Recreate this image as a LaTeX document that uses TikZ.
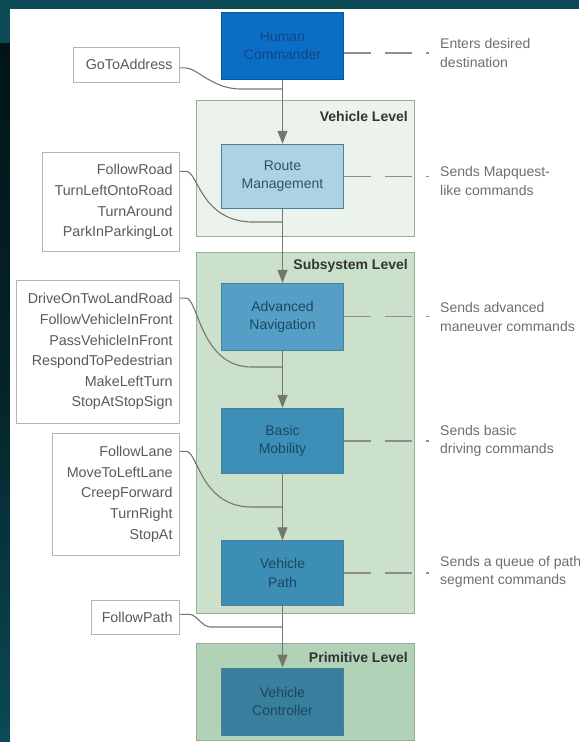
\documentclass[tikz,border=0pt]{standalone}
\usepackage{fontspec}
\setmainfont{Liberation Sans}
\usepackage{xcolor}
\usetikzlibrary{arrows.meta}

\definecolor{bgteal}{HTML}{0B4A55}
\definecolor{bgdark}{HTML}{021417}
\definecolor{hcfill}{HTML}{0B6EC6}
\definecolor{hctext}{HTML}{17457F}
\definecolor{rtfill}{HTML}{AED2E4}
\definecolor{anfill}{HTML}{559FC7}
\definecolor{bmfill}{HTML}{3D8FB7}
\definecolor{vpfill}{HTML}{3C8EB4}
\definecolor{vcfill}{HTML}{377F9D}
\definecolor{boxtext}{HTML}{1C4760}
\definecolor{boxline}{HTML}{4C7E96}
\definecolor{vlfill}{HTML}{ECF2EC}
\definecolor{slfill}{HTML}{CBE1CB}
\definecolor{plfill}{HTML}{B2D2B7}
\definecolor{tierline}{HTML}{9AAB9B}
\definecolor{listline}{HTML}{B4B4B4}
\definecolor{listtext}{HTML}{5A5A5A}
\definecolor{notetext}{HTML}{6E6E6E}
\definecolor{flowline}{HTML}{76776B}
\definecolor{dashline}{HTML}{8E8E8A}

\begin{document}
\begin{tikzpicture}[x=1pt,y=-1pt,
    every node/.style={inner sep=0pt,font=\fontsize{14}{18.5}\selectfont},
    block/.style={draw=boxline,line width=1pt,minimum width=121.8pt,minimum height=65pt,align=center,text=boxtext},
    tier/.style={draw=tierline,line width=1pt,anchor=north west,minimum width=218pt},
    tiername/.style={anchor=east,font=\bfseries\fontsize{14}{16}\selectfont,text=black!80},
    cmdlist/.style={draw=listline,fill=white,line width=1pt,anchor=east,align=right,inner xsep=7pt,text=listtext,font=\fontsize{14.3}{20.6}\selectfont},
    remark/.style={anchor=west,align=left,text=notetext},
    flowarrow/.style={draw=flowline,line width=1.3pt,-{Triangle[width=10pt,length=13pt]}},
    feedline/.style={draw=flowline,line width=1.1pt},
    dashlink/.style={draw=dashline,line width=1.4pt,dash pattern=on 27pt off 14pt}]
    %
    \useasboundingbox (0,0) rectangle (579,742);
    \fill[bgteal] (0,0) rectangle (579,742);
    \shade[top color=bgdark,bottom color=bgteal,middle color=bgdark!70!bgteal] (0,43) rectangle (10,742);
    \fill[white] (10,9) rectangle (579,742);
    %
    \node[tier,fill=vlfill,minimum height=135.5pt] (vlevel) at (196,100) {};
    \node[tier,fill=slfill,minimum height=361.3pt] (slevel) at (196,251.7) {};
    \node[tier,fill=plfill,minimum height=97.5pt] (plevel) at (196,642.5) {};
    \node[tiername] (vname) at (408,116) {Vehicle Level};
    \node[tiername] (sname) at (408,266) {Subsystem Level};
    \node[tiername] (pname) at (408,657) {Primitive Level};
    %
    \node[block,fill=hcfill,draw=hcfill!80!black,text=hctext,minimum height=66.6pt] (hc) at (282.5,46) {Human\\Commander};
    \node[block,fill=rtfill,text=boxtext!80!gray,minimum height=64pt] (route) at (282.5,176.3) {Route\\Management};
    \node[block,fill=anfill,minimum height=66.7pt] (advnav) at (282.5,316.7) {Advanced\\Navigation};
    \node[block,fill=bmfill] (basic) at (282.5,440.8) {Basic\\Mobility};
    \node[block,fill=vpfill,minimum height=64.3pt] (vpath) at (282.5,572.9) {Vehicle\\Path};
    \node[block,fill=vcfill,minimum height=67pt] (vctrl) at (282.5,701.5) {Vehicle\\Controller};
    %
    \node[cmdlist,text width=92.5pt,minimum height=34.5pt] (goto) at (180,64.8) {GoToAddress};
    \node[cmdlist,text width=123.5pt,minimum height=99.4pt] (road) at (180,202) {FollowRoad\\TurnLeftOntoRoad\\TurnAround\\ParkInParkingLot};
    \node[cmdlist,text width=149.4pt,minimum height=143.3pt] (drive) at (180,351.7) {DriveOnTwoLandRoad\\FollowVehicleInFront\\PassVehicleInFront\\RespondToPedestrian\\MakeLeftTurn\\StopAtStopSign};
    \node[cmdlist,text width=113.2pt,minimum height=121.7pt] (lane) at (180,494.2) {FollowLane\\MoveToLeftLane\\CreepForward\\TurnRight\\StopAt};
    \node[cmdlist,text width=73.7pt,minimum height=33.3pt] (path) at (180,617.4) {FollowPath};
    %
    \node[remark] (n1) at (440,53) {Enters desired\\destination};
    \node[remark] (n2) at (440,181) {Sends Mapquest-\\like commands};
    \node[remark] (n3) at (440,317) {Sends advanced\\maneuver commands};
    \node[remark] (n4) at (440,441) {Sends basic\\driving commands};
    \node[remark] (n5) at (440,572) {Sends a queue of path\\segment commands};
    %
    \draw[dashlink] ([yshift=-7pt]hc.east) -- ([xshift=-11pt]n1.west);
    \draw[dashlink] (route.east) -- ([xshift=-11pt]n2.west |- route.east);
    \draw[dashlink] (advnav.east) -- ([xshift=-11pt]n3.west |- advnav.east);
    \draw[dashlink] (basic.east) -- ([xshift=-11pt]n4.west |- basic.east);
    \draw[dashlink] (vpath.east) -- ([xshift=-11pt]n5.west |- vpath.east);
    %
    \coordinate (j1) at (282.5,89);
    \coordinate (j2) at (282.5,222);
    \coordinate (j3) at (282.5,367);
    \coordinate (j4) at (282.5,507);
    \coordinate (j5) at (282.5,627);
    %
    \draw[feedline] ([yshift=-3pt]goto.east) -- ++(5,0) .. controls +(12,0) and +(-28,0) .. ([xshift=-42pt]j1) -- (j1);
    \draw[feedline] ([yshift=-19.5pt]road.north east) -- ++(6,0) .. controls +(12,0) and +(-50,-2) .. ([xshift=-32pt]j2) -- (j2);
    \draw[feedline] ([yshift=-18.5pt]drive.north east) -- ++(6,0) .. controls +(12,0) and +(-50,-1) .. ([xshift=-32pt]j3) -- (j3);
    \draw[feedline] ([yshift=-18.5pt]lane.north east) -- ++(6,0) .. controls +(12,0) and +(-50,-1) .. ([xshift=-32pt]j4) -- (j4);
    \draw[feedline] ([yshift=3pt]path.east) -- ++(10,0) .. controls +(6,0) and +(-8,0) .. ([xshift=-72pt]j5) -- (j5);
    %
    \draw[flowarrow] (hc) -- (route);
    \draw[flowarrow] (route) -- (advnav);
    \draw[flowarrow] (advnav) -- (basic);
    \draw[flowarrow] (basic) -- (vpath);
    \draw[flowarrow] (vpath) -- (vctrl);
    %
\end{tikzpicture}
\end{document}
